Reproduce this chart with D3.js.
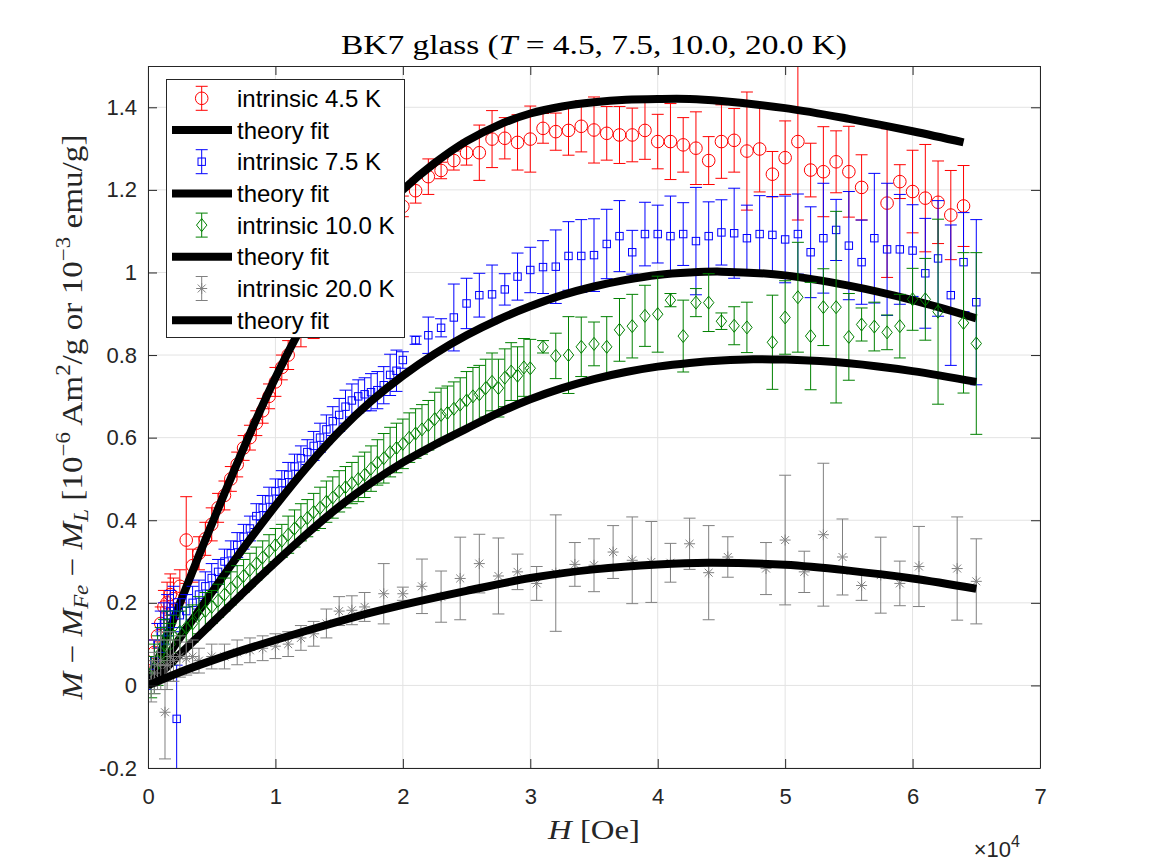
<!DOCTYPE html>
<html>
<head>
<meta charset="utf-8">
<script src="https://cdn.jsdelivr.net/npm/d3@7"></script>
<style>
  body { margin: 0; background: #fff; }
  svg text { font-family: "Liberation Sans", Arial, sans-serif; }
  svg text.tex { font-family: "Liberation Serif", "DejaVu Serif", serif; }
</style>
</head>
<body>
<svg id="chart" width="1152" height="864"></svg>
<script>
// ---- data: [H (Oe), M, error] ----
const intrinsic45 = [
  [250,0.03,0.03],[500,0.08,0.03],[750,0.12,0.03],[1000,0.15,0.04],[1250,0.19,0.04],[1500,0.2,0.05],
  [1750,0.22,0.05],[2000,0.21,0.05],[2500,0.24,0.04],[3000,0.352,0.105],[3500,0.29,0.04],[4000,0.32,0.04],
  [4500,0.355,0.04],[5000,0.39,0.04],[5500,0.43,0.035],[6000,0.46,0.035],[6500,0.5,0.03],[7000,0.535,0.03],
  [7500,0.575,0.03],[8000,0.6,0.03],[8500,0.635,0.03],[9000,0.665,0.03],[9500,0.7,0.03],[10000,0.735,0.035],
  [10500,0.77,0.03],[11000,0.8,0.035],[12000,0.86,0.04],[13000,0.93,0.09],[14000,0.97,0.05],[15000,1.02,0.04],
  [16000,1.06,0.04],[17000,1.1,0.04],[18000,1.13,0.03],[19000,1.15,0.03],
  [20000,1.160,0.025],[21000,1.198,0.03],[22000,1.232,0.043],[23000,1.247,0.02],[24000,1.271,0.023],
  [25000,1.290,0.03],[26000,1.290,0.067],[27000,1.323,0.069],[28000,1.325,0.05],[29000,1.315,0.067],
  [30000,1.323,0.08],[31000,1.349,0.036],[32000,1.341,0.045],[33000,1.344,0.06],[34000,1.354,0.062],
  [35000,1.345,0.08],[36000,1.337,0.065],[37000,1.333,0.069],[38000,1.333,0.065],[39000,1.344,0.07],
  [40000,1.317,0.066],[41000,1.317,0.092],[42000,1.309,0.066],[43000,1.301,0.088],[44000,1.271,0.058],
  [45000,1.317,0.089],[46000,1.320,0.077],[47000,1.294,0.143],[48000,1.299,0.104],[49000,1.238,0.055],
  [50000,1.278,0.089],[51000,1.317,0.19],[52000,1.248,0.065],[53000,1.244,0.109],[54000,1.268,0.075],
  [55000,1.244,0.11],[56000,1.206,0.079],[58000,1.168,0.18],[59000,1.220,0.041],[60000,1.196,0.1],
  [61000,1.18,0.13],[62000,1.170,0.1],[63000,1.139,0.108],[64000,1.161,0.098]
];
const intrinsic75 = [
  [250,0.03,0.04],[500,0.06,0.05],[750,0.1,0.05],[1000,0.13,0.05],[1250,0.15,0.05],[1500,0.17,0.05],
  [1750,0.18,0.05],[2000,0.19,0.05],[2250,-0.081,0.13],[2500,0.17,0.04],[3000,0.18,0.04],[3500,0.2,0.04],
  [4000,0.22,0.035],[4500,0.24,0.035],[5000,0.26,0.035],[5500,0.275,0.03],[6000,0.3,0.03],[6500,0.32,0.03],
  [7000,0.34,0.03],[7500,0.36,0.03],[8000,0.38,0.03],[8500,0.41,0.03],[9000,0.43,0.03],[9500,0.45,0.03],
  [10000,0.47,0.03],[10500,0.49,0.03],[11000,0.51,0.03],[11500,0.53,0.03],[12000,0.55,0.03],[12500,0.565,0.03],
  [13000,0.58,0.035],[13500,0.6,0.035],[14000,0.62,0.035],[14500,0.64,0.035],[15000,0.655,0.04],[15500,0.675,0.04],
  [16000,0.69,0.04],[16500,0.7,0.04],[17000,0.705,0.04],[17500,0.71,0.045],[18000,0.715,0.045],[18500,0.727,0.045],
  [19000,0.752,0.05],[19500,0.762,0.05],
  [20000,0.788,0.02],[21000,0.836,0.01],[22000,0.848,0.044],[23000,0.866,0.022],[24000,0.891,0.081],
  [25000,0.925,0.061],[26000,0.945,0.053],[27000,0.947,0.071],[28000,0.959,0.038],[29000,0.990,0.057],
  [30000,1.006,0.055],[31000,1.013,0.064],[32000,1.014,0.089],[33000,1.040,0.083],[34000,1.040,0.088],
  [35000,1.042,0.088],[36000,1.069,0.084],[37000,1.088,0.086],[38000,1.049,0.053],[39000,1.093,0.077],
  [40000,1.093,0.07],[41000,1.088,0.097],[42000,1.093,0.076],[43000,1.076,0.13],[44000,1.088,0.083],
  [45000,1.097,0.079],[46000,1.095,0.109],[47000,1.083,0.08],[48000,1.093,0.093],[49000,1.091,0.093],
  [50000,1.080,0.105],[51000,1.093,0.097],[52000,1.049,0.11],[53000,1.083,0.133],[54000,1.103,0.074],
  [55000,1.065,0.131],[56000,1.025,0.102],[57000,1.083,0.157],[58000,1.056,0.16],[59000,1.056,0.133],
  [60000,1.053,0.111],[61000,0.998,0.133],[62000,1.034,0.14],[63000,0.945,0.17],[64000,1.025,0.12],
  [65000,0.928,0.2]
];
const intrinsic100 = [
  [250,0.02,0.05],[500,0.04,0.06],[750,0.06,0.06],[1000,0.08,0.06],[1250,0.1,0.06],[1500,0.12,0.06],
  [1750,0.1,0.05],[2000,0.12,0.05],[2500,0.13,0.05],[3000,0.14,0.05],[3500,0.15,0.045],[4000,0.17,0.045],
  [4500,0.18,0.045],[5000,0.19,0.04],[5500,0.205,0.04],[6000,0.22,0.04],[6500,0.235,0.04],[7000,0.25,0.04],
  [7500,0.265,0.04],[8000,0.28,0.04],[8500,0.295,0.04],[9000,0.31,0.04],[9500,0.325,0.04],[10000,0.34,0.04],
  [10500,0.35,0.04],[11000,0.365,0.045],[11500,0.38,0.045],[12000,0.395,0.045],[12500,0.405,0.045],
  [13000,0.42,0.045],[13500,0.43,0.05],[14000,0.445,0.05],[14500,0.455,0.05],[15000,0.47,0.05],
  [15500,0.48,0.05],[16000,0.49,0.05],[16500,0.5,0.055],[17000,0.51,0.055],[17500,0.525,0.055],
  [18000,0.54,0.055],[18500,0.55,0.06],[19000,0.565,0.06],[19500,0.575,0.06],[20000,0.585,0.06],
  [20500,0.6,0.06],[21000,0.61,0.06],[21500,0.62,0.06],[22000,0.63,0.06],[22500,0.645,0.065],
  [23000,0.655,0.065],[23500,0.66,0.065],[24000,0.67,0.065],[24500,0.68,0.065],[25000,0.69,0.07],
  [25500,0.7,0.07],[26000,0.705,0.07],[26500,0.72,0.07],[27000,0.735,0.07],[27500,0.72,0.07],
  [28000,0.745,0.07],[28500,0.76,0.07],[29000,0.75,0.07],[29500,0.77,0.07],[30000,0.768,0.07],
  [31000,0.82,0.015],[32000,0.798,0.055],[33000,0.8,0.093],[34000,0.82,0.072],[35000,0.827,0.053],
  [36000,0.82,0.073],[37000,0.861,0.076],[38000,0.870,0.077],[39000,0.895,0.074],[40000,0.899,0.092],
  [41000,0.933,0.016],[42000,0.846,0.087],[43000,0.927,0.034],[44000,0.927,0.07],[45000,0.882,0.02],
  [46000,0.871,0.046],[47000,0.867,0.061],[49000,0.831,0.114],[50000,0.891,0.089],[51000,0.940,0.133],
  [52000,0.846,0.13],[53000,0.916,0.093],[54000,0.916,0.232],[55000,0.844,0.105],[56000,0.874,0.04],
  [57000,0.869,0.059],[58000,0.855,0.042],[59000,0.870,0.077],[60000,0.935,0.075],[61000,0.935,0.099],
  [62000,0.905,0.224],[64000,0.878,0.17],[65000,0.828,0.22]
];
const intrinsic200 = [
  [250,0.01,0.05],[500,0.03,0.05],[750,0.05,0.06],[1000,0.06,0.07],[1333,-0.065,0.113],[1500,0.05,0.06],
  [1750,0.07,0.06],[2000,0.06,0.05],[2500,0.07,0.05],[3000,0.065,0.04],[3500,0.07,0.04],[4000,0.06,0.03],
  [5000,0.07,0.03],[6000,0.07,0.03],[7000,0.08,0.03],[8000,0.085,0.03],[9000,0.09,0.03],[10000,0.095,0.03],
  [11000,0.1,0.03],[12000,0.115,0.03],[13000,0.125,0.03],[14000,0.15,0.035],[15000,0.18,0.035],
  [16000,0.182,0.035],[17000,0.19,0.035],
  [18500,0.222,0.073],[20000,0.222,0.016],[21500,0.240,0.066],[23000,0.215,0.062],[24500,0.259,0.1],
  [26000,0.295,0.071],[27500,0.265,0.092],[29000,0.275,0.043],[30500,0.247,0.041],[32000,0.272,0.141],
  [33500,0.293,0.053],[35000,0.291,0.064],[36500,0.323,0.064],[38000,0.303,0.105],[39500,0.299,0.098],
  [41000,0.297,0.047],[42500,0.343,0.062],[44000,0.273,0.114],[45500,0.311,0.049],[48500,0.283,0.063],
  [50000,0.352,0.157],[51500,0.275,0.05],[53000,0.365,0.173],[54500,0.311,0.092],[56000,0.242,0.036],
  [57500,0.267,0.092],[59000,0.247,0.054],[60500,0.288,0.097],[63500,0.283,0.125],[65000,0.252,0.103]
];
// theory fits: [H (Oe), M]
const fit45 = [[0,0],[2000,0.16],[4000,0.315],[6000,0.465],[8000,0.61],[10000,0.745],[12000,0.865],
  [14000,0.97],[16000,1.06],[18000,1.135],[20000,1.2],[22500,1.265],[25000,1.318],[27500,1.357],[30000,1.385],
  [32500,1.402],[35000,1.412],[37500,1.418],[40000,1.42],[42500,1.42],[45000,1.415],[50000,1.398],
  [55000,1.372],[60000,1.342],[64000,1.315]];
const fit75 = [[0,0],[2500,0.115],[5000,0.225],[7500,0.333],[10000,0.435],[12500,0.53],[15000,0.615],
  [17500,0.688],[20000,0.75],[22500,0.803],[25000,0.848],[27500,0.886],[30000,0.918],[32500,0.945],
  [35000,0.966],[37500,0.982],[40000,0.994],[42500,1.0],[45000,1.002],[50000,0.993],[55000,0.968],
  [60000,0.933],[65000,0.889]];
const fit100 = [[0,0],[2500,0.075],[5000,0.15],[7500,0.225],[10000,0.298],[12500,0.368],[15000,0.433],
  [17500,0.49],[20000,0.54],[22500,0.583],[25000,0.622],[27500,0.66],[30000,0.693],[32500,0.72],
  [35000,0.742],[37500,0.759],[40000,0.772],[42500,0.781],[45000,0.787],[47500,0.79],[50000,0.789],
  [55000,0.78],[60000,0.761],[65000,0.735]];
const fit200 = [[0,0],[2500,0.032],[5000,0.06],[7500,0.086],[10000,0.11],[12500,0.133],[15000,0.155],
  [17500,0.176],[20000,0.195],[25000,0.229],[30000,0.26],[35000,0.281],[40000,0.293],[44000,0.297],
  [50000,0.292],[55000,0.278],[60000,0.259],[65000,0.234]];

const xTicks = [0, 10000, 20000, 30000, 40000, 50000, 60000, 70000];
const yTicks = [-0.2, 0, 0.2, 0.4, 0.6, 0.8, 1, 1.2, 1.4];
const legendLabels = ["intrinsic 4.5 K", "theory fit", "intrinsic 7.5 K", "theory fit",
  "intrinsic 10.0 K", "theory fit", "intrinsic 20.0 K", "theory fit"];

// ---- drawing ----
const svg = d3.select("#chart");
const L = 148, R = 1040, T = 66, B = 768;
const x = d3.scaleLinear().domain([0, 70000]).range([L, R]);
const y = d3.scaleLinear().domain([-0.2, 1.5]).range([B, T]);
const axisColor = "#262626";

svg.append("rect").attr("x", L).attr("y", T).attr("width", R - L).attr("height", B - T).attr("fill", "#fff");

// grid
const grid = svg.append("g").attr("stroke", "#e3e3e3").attr("stroke-width", 1);
xTicks.forEach(function(t){
  grid.append("line").attr("x1", x(t)).attr("x2", x(t)).attr("y1", T).attr("y2", B);
});
yTicks.forEach(function(t){
  grid.append("line").attr("x1", L).attr("x2", R).attr("y1", y(t)).attr("y2", y(t));
});

svg.append("clipPath").attr("id", "plotclip")
  .append("rect").attr("x", L).attr("y", T).attr("width", R - L).attr("height", B - T);

const plot = svg.append("g").attr("clip-path", "url(#plotclip)");

function marker(g, shape, cx, cy, color) {
  if (shape == "circle") {
    g.append("circle").attr("cx", cx).attr("cy", cy).attr("r", 6.3)
      .attr("fill", "none").attr("stroke", color);
  } else if (shape == "square") {
    g.append("rect").attr("x", cx - 3.7).attr("y", cy - 3.7).attr("width", 7.4).attr("height", 7.4)
      .attr("fill", "none").attr("stroke", color);
  } else if (shape == "diamond") {
    g.append("path").attr("d", `M${cx},${cy - 6.5}L${cx + 5.2},${cy}L${cx},${cy + 6.5}L${cx - 5.2},${cy}Z`)
      .attr("fill", "none").attr("stroke", color);
  } else {
    const s = 5.5;
    g.append("path")
      .attr("d", `M${cx - s},${cy}H${cx + s}M${cx},${cy - s}V${cy + s}M${cx - s * 0.72},${cy - s * 0.72}L${cx + s * 0.72},${cy + s * 0.72}M${cx - s * 0.72},${cy + s * 0.72}L${cx + s * 0.72},${cy - s * 0.72}`)
      .attr("fill", "none").attr("stroke", color);
  }
}

function errorbars(data, color, shape) {
  const g = plot.append("g").attr("stroke-width", 1);
  data.forEach(function(d){
    const px = x(d[0]), top = y(d[1] + d[2]), bot = y(d[1] - d[2]);
    g.append("path")
      .attr("d", `M${px},${top}V${bot}M${px - 6},${top}H${px + 6}M${px - 6},${bot}H${px + 6}`)
      .attr("stroke", color).attr("fill", "none");
    marker(g, shape, px, y(d[1]), color);
  });
}

const line = d3.line().x(d => x(d[0])).y(d => y(d[1])).curve(d3.curveCatmullRom.alpha(0.5));
function fitline(data) {
  plot.append("path").datum(data).attr("d", line)
    .attr("fill", "none").attr("stroke", "#000").attr("stroke-width", 8);
}

const series = [
  { data: intrinsic45, fit: fit45, color: "#ff0000", shape: "circle" },
  { data: intrinsic75, fit: fit75, color: "#0000ff", shape: "square" },
  { data: intrinsic100, fit: fit100, color: "#008000", shape: "diamond" },
  { data: intrinsic200, fit: fit200, color: "#808080", shape: "star" }
];
series.forEach(function(s){
  errorbars(s.data, s.color, s.shape);
  fitline(s.fit);
});

// axes (ticks pointing inward, box on)
function styleAxis(g) {
  g.select(".domain").attr("stroke", axisColor).attr("fill", "none");
  g.selectAll(".tick line").attr("stroke", axisColor);
  g.selectAll(".tick text").attr("fill", axisColor).attr("font-size", 22)
    .attr("font-family", "Liberation Sans, Arial, sans-serif");
}
svg.append("g").attr("transform", `translate(0,${B})`)
  .call(d3.axisBottom(x).tickValues(xTicks).tickFormat(d => d / 10000).tickSizeInner(-9).tickSizeOuter(0).tickPadding(20))
  .call(styleAxis);
svg.append("g").attr("transform", `translate(0,${T})`)
  .call(d3.axisTop(x).tickValues(xTicks).tickFormat("").tickSizeInner(-9).tickSizeOuter(0))
  .call(styleAxis);
svg.append("g").attr("transform", `translate(${L},0)`)
  .call(d3.axisLeft(y).tickValues(yTicks).tickFormat(d => String(d)).tickSizeInner(-9).tickSizeOuter(0).tickPadding(11))
  .call(styleAxis);
svg.append("g").attr("transform", `translate(${R},0)`)
  .call(d3.axisRight(y).tickValues(yTicks).tickFormat("").tickSizeInner(-9).tickSizeOuter(0))
  .call(styleAxis);

// x10^4 exponent
const ex = svg.append("text").attr("x", 1020).attr("y", 857).attr("text-anchor", "end")
  .attr("fill", axisColor).attr("font-size", 22);
ex.append("tspan").text("\u00d710");
ex.append("tspan").attr("font-size", 16).attr("dy", -10).text("4");

// title
const title = svg.append("text").attr("class", "tex").attr("x", (L + R) / 2).attr("y", 54)
  .attr("text-anchor", "middle").attr("font-size", 28).attr("fill", "#000")
  .attr("textLength", 506).attr("lengthAdjust", "spacingAndGlyphs");
title.append("tspan").text("BK7 glass (");
title.append("tspan").attr("font-style", "italic").text("T");
title.append("tspan").text(" = 4.5, 7.5, 10.0, 20.0 K)");

// x label
const xl = svg.append("text").attr("class", "tex").attr("x", (L + R) / 2).attr("y", 839)
  .attr("text-anchor", "middle").attr("font-size", 27).attr("fill", axisColor)
  .attr("textLength", 92).attr("lengthAdjust", "spacingAndGlyphs");
xl.append("tspan").attr("font-style", "italic").text("H");
xl.append("tspan").text(" [Oe]");

// y label
const yl = svg.append("text").attr("class", "tex")
  .attr("transform", `translate(82,${(T + B) / 2}) rotate(-90)`)
  .attr("text-anchor", "middle").attr("font-size", 29).attr("fill", axisColor)
  .attr("textLength", 565).attr("lengthAdjust", "spacingAndGlyphs");
yl.append("tspan").attr("font-style", "italic").text("M");
yl.append("tspan").text(" \u2212 ");
yl.append("tspan").attr("font-style", "italic").text("M");
yl.append("tspan").attr("font-style", "italic").attr("font-size", 20).attr("dy", 6).text("Fe");
yl.append("tspan").attr("dy", -6).text(" \u2212 ");
yl.append("tspan").attr("font-style", "italic").text("M");
yl.append("tspan").attr("font-style", "italic").attr("font-size", 20).attr("dy", 6).text("L");
yl.append("tspan").attr("dy", -6).text(" [10");
yl.append("tspan").attr("font-size", 20).attr("dy", -12).text("\u22126");
yl.append("tspan").attr("dy", 12).text(" Am");
yl.append("tspan").attr("font-size", 20).attr("dy", -12).text("2");
yl.append("tspan").attr("dy", 12).text("/g or 10");
yl.append("tspan").attr("font-size", 20).attr("dy", -12).text("\u22123");
yl.append("tspan").attr("dy", 12).text(" emu/g]");

// legend
const lg = svg.append("g");
lg.append("rect").attr("x", 166.5).attr("y", 79.5).attr("width", 238).attr("height", 258)
  .attr("fill", "#fff").attr("stroke", axisColor).attr("stroke-width", 1);
legendLabels.forEach(function(label, i){
  const cy = 98.3 + i * 31.7;
  const s = series[Math.floor(i / 2)];
  if (i % 2 == 0) {
    lg.append("path")
      .attr("d", `M201.7,${cy - 12}V${cy + 12}M195.7,${cy - 12}H207.7M195.7,${cy + 12}H207.7`)
      .attr("stroke", s.color).attr("fill", "none");
    marker(lg, s.shape, 201.7, cy, s.color);
  } else {
    lg.append("line").attr("x1", 172).attr("x2", 232).attr("y1", cy).attr("y2", cy)
      .attr("stroke", "#000").attr("stroke-width", 8);
  }
  lg.append("text").attr("x", 237).attr("y", cy).attr("dy", "0.36em")
    .attr("font-size", 24).attr("fill", "#000").text(label);
});
</script>
</body>
</html>
